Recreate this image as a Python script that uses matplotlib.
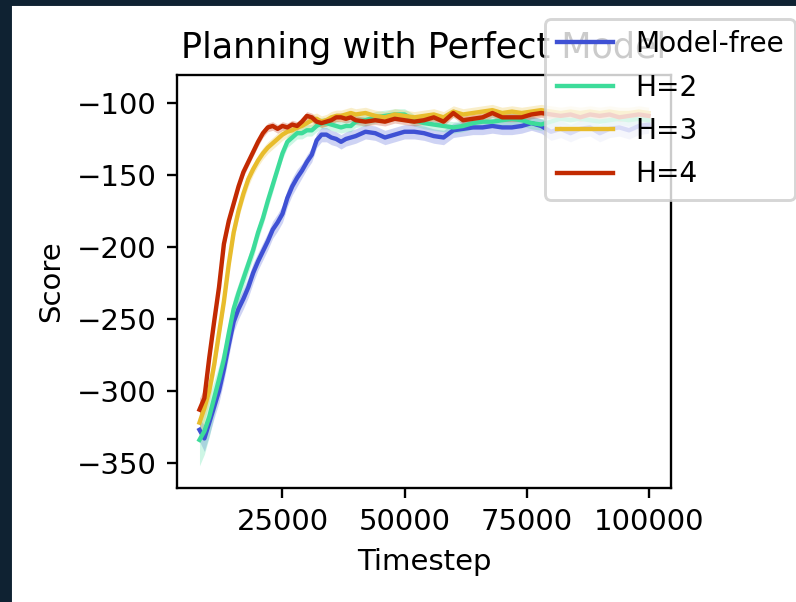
import numpy as np
import matplotlib.pyplot as plt
from matplotlib.patches import Rectangle

timesteps = list(range(8000, 41000, 1000)) + list(range(42000, 102000, 2000))

model_free = [-327, -333, -322, -311, -300, -285, -268, -252, -243, -236, -228,
              -218, -210, -203, -196, -188, -183, -177, -166, -158, -152, -147,
              -141, -136, -126, -122, -122, -124, -125, -127, -125, -124, -123,
              -120, -121, -124, -122, -120, -120, -121, -123, -124, -119, -118,
              -117, -117, -116, -117, -117, -116, -114, -116, -120, -118, -121,
              -118, -117, -121, -118, -117, -119, -116, -115]
h2 = [-334, -328, -318, -305, -292, -278, -260, -243, -232, -222, -212,
      -202, -190, -180, -168, -157, -146, -135, -127, -124, -121, -121,
      -119, -119, -116, -114, -114, -115, -116, -117, -116, -116, -113,
      -112, -110, -109, -108, -108, -112, -114, -115, -116, -117, -116,
      -114, -113, -113, -112, -111, -112, -114, -115, -113, -111, -112,
      -111, -112, -113, -112, -111, -112, -111, -112]
h3 = [-322, -312, -300, -282, -260, -238, -212, -190, -175, -163, -153,
      -146, -140, -135, -131, -128, -125, -122, -120, -119, -117, -116,
      -114, -112, -111, -113, -112, -110, -109, -109, -108, -107, -108,
      -107, -109, -110, -108, -109, -110, -109, -108, -110, -106, -108,
      -107, -106, -105, -107, -106, -107, -106, -105, -106, -107, -106,
      -107, -106, -107, -106, -107, -107, -106, -107]
h4 = [-313, -305, -277, -252, -228, -198, -182, -170, -158, -148, -141,
      -134, -127, -121, -117, -116, -118, -116, -117, -115, -116, -113,
      -109, -110, -113, -114, -113, -112, -110, -110, -111, -110, -112,
      -113, -112, -113, -111, -112, -113, -112, -110, -113, -107, -112,
      -111, -110, -107, -110, -110, -110, -108, -107, -108, -109, -108,
      -110, -108, -109, -108, -110, -109, -108, -109]

# half width of the shaded band
model_free_sd = [8, 9, 9, 8, 8, 8, 8, 7, 7, 7, 7, 7, 6, 6, 6, 6, 6, 6, 6, 6, 6, 5,
                 5, 5, 5, 5, 5, 5, 5, 5, 5, 5, 5, 5, 5, 5, 5, 5, 5, 5, 5, 5, 5, 5,
                 5, 5, 5, 5, 5, 5, 5, 5, 6, 6, 6, 6, 6, 6, 6, 6, 6, 6, 6]
h2_sd = [18, 16, 14, 12, 10, 9, 8, 8, 7, 7, 6, 6, 5, 5, 5, 5, 4, 4, 4, 4, 4, 4,
         4, 4, 4, 4, 4, 4, 4, 4, 4, 4, 4, 4, 4, 4, 4, 4, 4, 4, 4, 4, 4, 4,
         4, 4, 4, 4, 4, 4, 4, 4, 4, 4, 4, 4, 4, 4, 4, 4, 4, 4, 4]
h3_sd = [10, 9, 8, 7, 6, 6, 5, 5, 5, 5, 5, 4, 4, 4, 4, 4, 4, 4, 4, 4, 4, 4,
         4, 4, 4, 4, 4, 4, 4, 4, 4, 4, 4, 4, 4, 4, 4, 4, 4, 4, 4, 4, 4, 4,
         4, 4, 4, 4, 4, 4, 4, 4, 4, 4, 4, 4, 4, 4, 4, 4, 4, 4, 4]
h4_sd = [8, 7, 6, 5, 4, 4, 4, 3, 3, 3, 3, 3, 3, 3, 3, 3, 3, 3, 3, 3, 3, 3,
         3, 3, 3, 3, 3, 3, 3, 3, 3, 3, 3, 3, 3, 3, 3, 3, 3, 3, 3, 3, 3, 3,
         3, 3, 3, 3, 3, 3, 3, 3, 3, 3, 3, 3, 3, 3, 3, 3, 3, 3, 3]

etichete = ['Model-free', 'H=2', 'H=3', 'H=4']
culori = ['#3f51d4', '#3ddc9a', '#e8bc2c', '#c22a02']

x = np.array(timesteps)
serii = [model_free, h2, h3, h4]
benzi = [model_free_sd, h2_sd, h3_sd, h4_sd]

fig = plt.figure(figsize=(796 / 210, 602 / 210), dpi=210)
ax = fig.add_axes([0.2224, 0.1894, 0.843 - 0.2224, 0.8754 - 0.1894])

linii = []
for y, sd, c, et in zip(serii, benzi, culori, etichete):
    y = np.array(y)
    sd = np.array(sd)
    ax.fill_between(x, y - sd, y + sd, color=c, alpha=0.25, linewidth=0)
    l, = ax.plot(x, y, color=c, linewidth=1.5, label=et)
    linii.append(l)

ax.set_xticks([25000, 50000, 75000, 100000])
ax.set_yticks([-350, -300, -250, -200, -150, -100])
ax.set_ylim(-367.4, -80.6)
ax.set_xlabel('Timestep')
ax.set_ylabel('Score')
ax.set_title('Planning with Perfect Model')

fig.legend(handles=linii, loc='upper right', bbox_to_anchor=(795 / 796, 1 - 19 / 602),
           borderaxespad=0, fontsize=9.6, borderpad=0.4, labelspacing=0.55)

# dark screenshot border on the left and top
fig.patches.append(Rectangle((0, 0), 10 / 796, 1, transform=fig.transFigure,
                             color='#0f2232', zorder=10))
fig.patches.append(Rectangle((0, 1 - 4 / 602), 1, 4 / 602, transform=fig.transFigure,
                             color='#0f2232', zorder=10))

fig.savefig('out.png', dpi=210)
